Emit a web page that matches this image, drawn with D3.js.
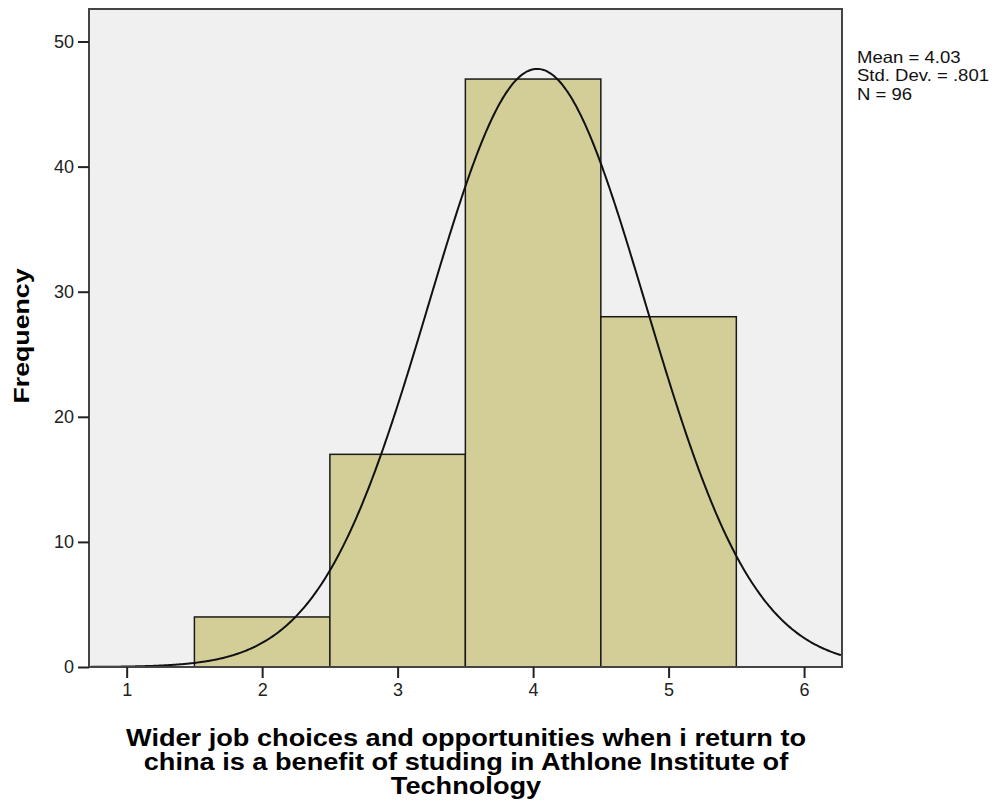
<!DOCTYPE html>
<html>
<head>
<meta charset="utf-8">
<script src="https://cdn.jsdelivr.net/npm/d3@7"></script>
<style>
  html, body { margin: 0; padding: 0; background: #ffffff; }
  svg { display: block; }
  text { font-family: "Liberation Sans", Arial, sans-serif; }
</style>
</head>
<body>
<svg id="chart" width="995" height="805"></svg>
<script>
// ---- data ----
const binCenters = [2, 3, 4, 5];
const frequencies = [4, 17, 47, 28];
const binWidth = 1;
const yTicks = [0, 10, 20, 30, 40, 50];
const xTicks = [1, 2, 3, 4, 5, 6];
const statsMean = 4.03;
const statsSD = 0.801;
const statsN = 96;
const statsLines = ["Mean = 4.03", "Std. Dev. = .801", "N = 96"];
const xTitleLines = [
  "Wider job choices and opportunities when i return to",
  "china is a benefit of studing in Athlone Institute of",
  "Technology"
];
const yTitle = "Frequency";

// ---- layout ----
const plot = { left: 89, right: 842, top: 9, bottom: 667 };
const svg = d3.select("#chart");

const x = d3.scaleLinear().domain([0.722, 6.28]).range([plot.left, plot.right]);
const y = d3.scaleLinear().domain([0, 52.6]).range([plot.bottom, plot.top]);

// background
svg.append("rect")
  .attr("x", plot.left).attr("y", plot.top)
  .attr("width", plot.right - plot.left).attr("height", plot.bottom - plot.top)
  .attr("fill", "#f0f0f0");

svg.append("clipPath").attr("id", "plotclip").append("rect")
  .attr("x", plot.left).attr("y", plot.top)
  .attr("width", plot.right - plot.left).attr("height", plot.bottom - plot.top);

// bars
svg.append("g").selectAll("rect").data(binCenters).join("rect")
  .attr("x", d => x(d - binWidth / 2))
  .attr("y", (d, i) => y(frequencies[i]))
  .attr("width", d => x(d + binWidth / 2) - x(d - binWidth / 2))
  .attr("height", (d, i) => y(0) - y(frequencies[i]))
  .attr("fill", "#d3ce98")
  .attr("stroke", "#1a1a1a")
  .attr("stroke-width", 1.5);

// normal curve from the reported statistics
const xs = d3.range(0.722, 6.281, 0.01);
const dens = v => statsN * binWidth / (statsSD * Math.sqrt(2 * Math.PI)) *
  Math.exp(-0.5 * Math.pow((v - statsMean) / statsSD, 2));
svg.append("path")
  .datum(xs)
  .attr("clip-path", "url(#plotclip)")
  .attr("fill", "none")
  .attr("stroke", "#111")
  .attr("stroke-width", 2)
  .attr("d", d3.line().x(d => x(d)).y(d => y(dens(d))).curve(d3.curveBasis));

// frame
svg.append("rect")
  .attr("x", plot.left).attr("y", plot.top)
  .attr("width", plot.right - plot.left).attr("height", plot.bottom - plot.top)
  .attr("fill", "none").attr("stroke", "#444").attr("stroke-width", 2);

// axes
const yAxis = svg.append("g")
  .attr("transform", `translate(${plot.left},0)`)
  .call(d3.axisLeft(y).tickValues(yTicks).tickSize(11).tickPadding(4).tickFormat(d3.format("d")));
const xAxis = svg.append("g")
  .attr("transform", `translate(0,${plot.bottom})`)
  .call(d3.axisBottom(x).tickValues(xTicks).tickSize(11).tickPadding(5).tickFormat(d3.format("d")));
[yAxis, xAxis].forEach(g => {
  g.select(".domain").remove();
  g.selectAll(".tick line").attr("stroke", "#222").attr("stroke-width", 2);
  g.selectAll(".tick text").attr("font-size", 18).attr("fill", "#222")
    .attr("font-family", "'Liberation Sans', Arial, sans-serif");
});

// stats text (slightly widened to match reference glyph widths)
const statsText = svg.append("g").selectAll("text").data(statsLines).join("text")
  .attr("x", 857)
  .attr("y", (d, i) => 63 + i * 18.3)
  .attr("font-size", 16.5)
  .attr("fill", "#111")
  .text(d => d);
const statsScale = 132 / statsText.nodes()[1].getComputedTextLength();
statsText.each(function () {
  d3.select(this).attr("textLength", this.getComputedTextLength() * statsScale)
    .attr("lengthAdjust", "spacingAndGlyphs");
});

// y title
const yT = svg.append("text")
  .attr("transform", "translate(29,336) rotate(-90)")
  .attr("text-anchor", "middle")
  .attr("font-size", 22)
  .attr("font-weight", "bold")
  .attr("fill", "#000")
  .text(yTitle);
yT.attr("textLength", 135).attr("lengthAdjust", "spacingAndGlyphs");

// x title
const xT = svg.append("g").selectAll("text").data(xTitleLines).join("text")
  .attr("x", 466)
  .attr("y", (d, i) => 746 + i * 24)
  .attr("text-anchor", "middle")
  .attr("font-size", 23.5)
  .attr("font-weight", "bold")
  .attr("fill", "#000")
  .text(d => d);
const titleScale = 680 / xT.nodes()[0].getComputedTextLength();
xT.each(function () {
  d3.select(this).attr("textLength", this.getComputedTextLength() * titleScale)
    .attr("lengthAdjust", "spacingAndGlyphs");
});
</script>
</body>
</html>
